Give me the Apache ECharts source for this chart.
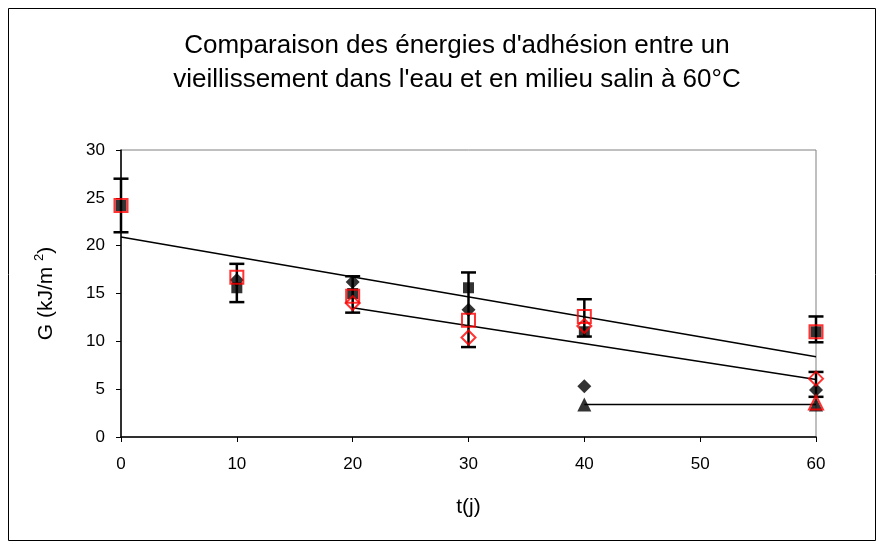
<!DOCTYPE html>
<html><head><meta charset="utf-8">
<script src="https://cdn.jsdelivr.net/npm/echarts@6/dist/echarts.min.js"></script>
<style>html,body{margin:0;padding:0;background:#fff}#c{width:884px;height:549px}</style>
</head><body><div id="c"></div>
<script>
const titleLines = ["Comparaison des énergies d'adhésion entre un", "vieillissement dans l'eau et en milieu salin à 60°C"];
const xTicks = [0, 10, 20, 30, 40, 50, 60];
// Black (water) series
const blackSquare = [[0, 24.2], [10, 15.6], [20, 15.0], [30, 15.6], [40, 11.0], [60, 11.0]];
const blackDiamond = [[10, 16.4], [20, 16.2], [30, 13.3], [40, 5.3], [60, 4.9]];
const blackTriangle = [[40, 3.4], [60, 3.4]];
// Red (saline) series
const redSquare = [[0, 24.2], [10, 16.7], [20, 14.7], [30, 12.2], [40, 12.6], [60, 11.0]];
const redDiamond = [[20, 14.0], [30, 10.4], [40, 11.6], [60, 6.1]];
const redTriangle = [[60, 3.6]];
// Error bars: x, low, high
const errX = [0, 10, 20, 30, 40, 60, 60];
const errLow = [21.4, 14.1, 13.0, 9.4, 10.5, 9.9, 4.2];
const errHigh = [27.0, 18.1, 16.8, 17.2, 14.4, 12.6, 6.8];
// Trend lines
const trend1 = [[0, 20.9], [60, 8.4]];
const trend2 = [[20, 13.5], [60, 6.0]];
const trend3 = [[40, 3.4], [60, 3.4]];

const FONT = "'Liberation Sans', Arial, sans-serif";
const errData = errX.map((x, i) => [x, errLow[i], errHigh[i]]);

const chart = echarts.init(document.getElementById('c'), null, {renderer: 'canvas'});
function markerSeries(data, symbol, size, filled, color, z) {
  return {
    type: 'scatter', data: data, symbol: symbol, symbolSize: size, z: z,
    itemStyle: filled ? {color: color, borderWidth: 0} : {color: 'rgba(0,0,0,0)', borderColor: color, borderWidth: 2},
    emphasis: {disabled: true}
  };
}
function trendSeries(data) {
  return {type: 'line', data: data, symbol: 'none', z: 3,
    lineStyle: {color: '#000', width: 1.5}, emphasis: {disabled: true}};
}
chart.setOption({
  animation: false,
  backgroundColor: '#fff',
  title: {
    text: titleLines.join('\n'), left: 452, top: 24, textAlign: 'center',
    textStyle: {fontFamily: FONT, fontSize: 26, fontWeight: 'normal', color: '#000', lineHeight: 34}
  },
  graphic: [{
    type: 'rect', shape: {x: 8.5, y: 8.5, width: 867, height: 532},
    style: {fill: 'none', stroke: '#000', lineWidth: 1}, z: -1, silent: true
  }],
  grid: {left: 121, right: 68, top: 150, bottom: 112, show: true, borderColor: '#808080', borderWidth: 1, backgroundColor: 'rgba(0,0,0,0)'},
  xAxis: {
    type: 'value', min: 0, max: 60, interval: 10,
    name: 't(j)', nameLocation: 'middle', nameGap: 60,
    nameTextStyle: {fontFamily: FONT, fontSize: 21, color: '#000'},
    axisLine: {lineStyle: {color: '#000', width: 1.5}},
    axisTick: {show: true, inside: false, length: 5, lineStyle: {color: '#000'}},
    axisLabel: {fontFamily: FONT, fontSize: 17, color: '#000', margin: 19,
      formatter: v => xTicks.includes(v) ? String(v) : ''},
    splitLine: {show: false}
  },
  yAxis: {
    type: 'value', min: 0, max: 30, interval: 5,
    name: '{a|G (kJ/m }{s|2}{a|)}', nameLocation: 'middle', nameGap: 62, nameRotate: 90,
    nameTextStyle: {fontFamily: FONT, fontSize: 21, color: '#000',
      rich: {a: {fontFamily: FONT, fontSize: 21, color: '#000', lineHeight: 26},
             s: {fontFamily: FONT, fontSize: 13, color: '#000', verticalAlign: 'top', lineHeight: 26, padding: [0, 0, 10, 0]}}},
    axisLine: {show: true, lineStyle: {color: '#000', width: 1.5}},
    axisTick: {show: true, inside: false, length: 5, lineStyle: {color: '#000'}},
    axisLabel: {fontFamily: FONT, fontSize: 17, color: '#000', margin: 16},
    splitLine: {show: false}
  },
  series: [
    {
      type: 'custom', data: errData, z: 2, silent: true,
      renderItem: function (params, api) {
        const x = api.value(0), lo = api.value(1), hi = api.value(2);
        const p1 = api.coord([x, lo]), p2 = api.coord([x, hi]);
        const w = 7.5;
        const st = {stroke: '#000', lineWidth: 2.5};
        return {type: 'group', children: [
          {type: 'line', shape: {x1: p1[0], y1: p1[1], x2: p2[0], y2: p2[1]}, style: st},
          {type: 'line', shape: {x1: p1[0] - w, y1: p1[1], x2: p1[0] + w, y2: p1[1]}, style: st},
          {type: 'line', shape: {x1: p2[0] - w, y1: p2[1], x2: p2[0] + w, y2: p2[1]}, style: st}
        ]};
      }
    },
    trendSeries(trend1), trendSeries(trend2), trendSeries(trend3),
    markerSeries(blackDiamond, 'diamond', 14, true, '#000', 4),
    markerSeries(blackSquare, 'rect', 11, true, '#000', 4),
    markerSeries(blackTriangle, 'triangle', 14, true, '#000', 4),
    markerSeries(redSquare, 'rect', 13, false, '#ff0000', 5),
    markerSeries(redDiamond, 'diamond', 14, false, '#ff0000', 5),
    markerSeries(redTriangle, 'triangle', 14, false, '#ff0000', 5)
  ]
});
</script></body></html>
